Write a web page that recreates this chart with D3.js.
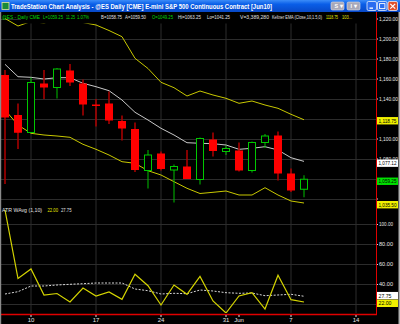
<!DOCTYPE html>
<html>
<head>
<meta charset="utf-8">
<script src="https://cdn.jsdelivr.net/npm/d3@7"></script>
<style>
body { margin: 0; background: #000; }
svg { display: block; font-family: "Liberation Sans", Arial, sans-serif; }
</style>
</head>
<body>
<script>
var width = 400,
    height = 324;

// daily bars, @ES June 2010 contract
var dates = ["2010-05-06", "2010-05-07", "2010-05-10", "2010-05-11", "2010-05-12", "2010-05-13",
    "2010-05-14", "2010-05-17", "2010-05-18", "2010-05-19", "2010-05-20", "2010-05-21",
    "2010-05-24", "2010-05-25", "2010-05-26", "2010-05-27", "2010-05-28", "2010-05-31",
    "2010-06-01", "2010-06-02", "2010-06-03", "2010-06-04", "2010-06-07", "2010-06-08"];
var emptyDays = ["2010-06-09", "2010-06-10", "2010-06-11", "2010-06-14", "2010-06-15"];

var open  = [1163.5, 1123.5, 1106, 1155, 1151, 1168, 1155, 1134, 1135, 1117.5, 1109.5, 1068,
             1085, 1068.5, 1072, 1059, 1099, 1087, 1088, 1068, 1096, 1103, 1065, 1049.25];
var high  = [1168.5, 1135, 1161, 1168.5, 1170.5, 1174.5, 1159, 1139.5, 1147, 1123, 1116, 1088.5,
             1087, 1074, 1088.5, 1101, 1106, 1093, 1096, 1097, 1104.5, 1107, 1070, 1063.25];
var low   = [1054.5, 1089.5, 1106, 1139.5, 1140, 1152.5, 1123, 1112, 1114.5, 1098, 1066.5, 1050,
             1068, 1036, 1059.5, 1054, 1082, 1083.5, 1067, 1066, 1090.5, 1058, 1046.5, 1041.25];
var close = [1121, 1105.75, 1156, 1151, 1169.5, 1156, 1134, 1132.5, 1118, 1110, 1068.5, 1083.5,
             1069.5, 1072, 1059.5, 1100, 1087.5, 1090, 1068, 1096, 1102.5, 1065, 1048, 1059.25];

// Keltner EMA (Close,10,1.5,0)
var kcMid   = [1174.2, 1161.8, 1161.2, 1159.5, 1160.8, 1160.8, 1155.2, 1151.8, 1147.8, 1138.5, 1126.2, 1118.5,
               1110.2, 1103.5, 1095.8, 1095.2, 1094.8, 1093.5, 1089.2, 1090.2, 1091.8, 1088.5, 1080.8, 1077.12];
var kcUpper = [1220, 1212.5, 1217, 1215.5, 1219, 1220.5, 1216, 1213.5, 1208, 1201.8, 1180.2, 1170,
               1156.2, 1150.8, 1142.5, 1147.5, 1143.5, 1140.2, 1135.2, 1137.5, 1133.5, 1130.2, 1124.2, 1118.75];
var kcLower = [1128.5, 1113.5, 1105.2, 1103.5, 1102.5, 1101.2, 1094.2, 1089.2, 1083.5, 1076.8, 1075.2, 1067.8,
               1063.5, 1056.8, 1050.2, 1045, 1046.2, 1047.5, 1043.5, 1043.5, 1050.8, 1043.5, 1037.5, 1035.5];

// ATR WAvg (1,10)
var atr    = [114, 45.5, 55, 29, 30.5, 22, 36, 28, 32, 24.7, 49.7, 38.3,
              19, 39, 29.7, 47.5, 23, 11, 28, 31.3, 15, 48.7, 24.3, 22];
var atrAvg = [30, 32.3, 38, 38, 39, 39.7, 40.3, 41, 41, 41, 35, 33.3,
              30, 30.7, 30.3, 34, 33, 31.3, 30.7, 31, 28.3, 29, 29.7, 27.75];

var priceTicks = [1220, 1200, 1180, 1160, 1140, 1120, 1100, 1080, 1060, 1040];
var atrTicks = [100, 80, 60, 40, 20];

var titleText = "TradeStation Chart Analysis - @ES Daily [CME] E-mini S&P 500 Continuous Contract [Jun10]";
var statusParts = [
    {t: "@ES - Daily CME", c: "#00d800", x: 2, w: 38},
    {t: "L=1059.25", c: "#00d800", x: 43, w: 20},
    {t: "11.25", c: "#00d800", x: 66, w: 9},
    {t: "1.07%", c: "#00d800", x: 77, w: 12},
    {t: "B=1058.75", c: "#e0e0e0", x: 101, w: 21},
    {t: "A=1059.50", c: "#e0e0e0", x: 125, w: 21},
    {t: "O=1049.25", c: "#00d800", x: 152, w: 21},
    {t: "Hi=1063.25", c: "#e0e0e0", x: 178, w: 23},
    {t: "Lo=1041.25", c: "#e0e0e0", x: 207, w: 23},
    {t: "V=3,389,280", c: "#e0e0e0", x: 240, w: 29},
    {t: "Keltner EMA (Close,10,1.5,0)", c: "#e0e0e0", x: 272, w: 50},
    {t: "1118.75", c: "#e8e800", x: 326, w: 12},
    {t: "103...", c: "#e8e800", x: 342, w: 10}
];

var parse = d3.timeParse("%Y-%m-%d");
var allDays = dates.concat(emptyDays);

var axisX = 376,
    priceTop = 13, priceBottom = 207,
    atrTop = 207, atrBottom = 313;

var x = d3.scalePoint()
    .domain(allDays)
    .range([5, 5 + 13 * (allDays.length - 1)]);

var y = d3.scaleLinear().domain([1040, 1200]).range([198.5, 38.5]);
var yAtr = d3.scaleLinear().domain([20, 100]).range([304, 224]);

var svg = d3.select("body").append("svg")
    .attr("width", width)
    .attr("height", height);

svg.append("rect").attr("width", width).attr("height", height).attr("fill", "#000");

var defs = svg.append("defs");
var grad = defs.append("linearGradient").attr("id", "title").attr("x1", 0).attr("y1", 0).attr("x2", 0).attr("y2", 1);
grad.append("stop").attr("offset", 0).attr("stop-color", "#3b8cf8");
grad.append("stop").attr("offset", 0.35).attr("stop-color", "#0a5ee8");
grad.append("stop").attr("offset", 1).attr("stop-color", "#0848c6");
defs.append("clipPath").attr("id", "priceClip").append("rect")
    .attr("x", 0).attr("y", priceTop).attr("width", axisX).attr("height", priceBottom - priceTop);
defs.append("clipPath").attr("id", "atrClip").append("rect")
    .attr("x", 0).attr("y", atrTop).attr("width", axisX).attr("height", atrBottom - atrTop);

// gridlines
var mondays = allDays.filter(function(d) { return parse(d).getDay() === 1; });
svg.append("g").selectAll("line")
    .data(mondays)
  .enter().append("line")
    .attr("x1", function(d) { return x(d); })
    .attr("x2", function(d) { return x(d); })
    .attr("y1", priceTop)
    .attr("y2", atrBottom)
    .attr("stroke", "#2c2c2c");

svg.append("g").selectAll("line")
    .data(priceTicks)
  .enter().append("line")
    .attr("x1", 1).attr("x2", axisX)
    .attr("y1", function(d) { return Math.round(y(d)) + 0.5; })
    .attr("y2", function(d) { return Math.round(y(d)) + 0.5; })
    .attr("stroke", "#2c2c2c");

svg.append("g").selectAll("line")
    .data(atrTicks)
  .enter().append("line")
    .attr("x1", 1).attr("x2", axisX)
    .attr("y1", function(d) { return Math.round(yAtr(d)) + 0.5; })
    .attr("y2", function(d) { return Math.round(yAtr(d)) + 0.5; })
    .attr("stroke", "#2c2c2c");

// price pane
var price = svg.append("g").attr("clip-path", "url(#priceClip)");

var bandLine = d3.line()
    .x(function(d, i) { return x(dates[i]); })
    .y(function(d) { return y(d); });

price.append("path").datum(kcUpper).attr("d", bandLine)
    .attr("fill", "none").attr("stroke", "#c8c800").attr("stroke-width", 1);
price.append("path").datum(kcLower).attr("d", bandLine)
    .attr("fill", "none").attr("stroke", "#c8c800").attr("stroke-width", 1);
price.append("path").datum(kcMid).attr("d", bandLine)
    .attr("fill", "none").attr("stroke", "#c8c8c8").attr("stroke-width", 1);

var bars = dates.map(function(d, i) {
    return {date: d, o: open[i], h: high[i], l: low[i], c: close[i], up: close[i] >= open[i]};
});

var candle = price.selectAll(".candle")
    .data(bars)
  .enter().append("g")
    .attr("class", "candle");

candle.append("line")
    .attr("x1", function(d) { return x(d.date); })
    .attr("x2", function(d) { return x(d.date); })
    .attr("y1", function(d) { return y(d.h); })
    .attr("y2", function(d) { return y(d.l); })
    .attr("stroke", function(d) { return d.up ? "#00c000" : "#b00000"; })
    .attr("stroke-width", function(d) { return d.up ? 1 : 1.5; });

candle.append("rect")
    .attr("x", function(d) { return x(d.date) - (d.up ? 3.5 : 4); })
    .attr("width", function(d) { return d.up ? 7 : 8; })
    .attr("y", function(d) { return y(Math.max(d.o, d.c)); })
    .attr("height", function(d) { return Math.max(1, Math.abs(y(d.o) - y(d.c))); })
    .attr("fill", function(d) { return d.up ? "#000" : "#ff0000"; })
    .attr("stroke", function(d) { return d.up ? "#00c800" : "none"; })
    .attr("stroke-width", 1);

// ATR pane
var atrPane = svg.append("g").attr("clip-path", "url(#atrClip)");

var atrLine = d3.line()
    .x(function(d, i) { return x(dates[i]); })
    .y(function(d) { return yAtr(d); });

atrPane.append("path").datum(atrAvg).attr("d", atrLine)
    .attr("fill", "none").attr("stroke", "#d8d8d8").attr("stroke-width", 1)
    .attr("stroke-dasharray", "2,1.5");
atrPane.append("path").datum(atr).attr("d", atrLine)
    .attr("fill", "none").attr("stroke", "#d4d400").attr("stroke-width", 1.2);

var atrHead = svg.append("text").attr("y", 211.5).attr("font-size", 5.5);
atrHead.append("tspan").attr("x", 2).attr("fill", "#e0e0e0").attr("textLength", 40)
    .attr("lengthAdjust", "spacingAndGlyphs").text("ATR WAvg (1,10)");
atrHead.append("tspan").attr("x", 47.5).attr("fill", "#e8e800").attr("textLength", 10.5)
    .attr("lengthAdjust", "spacingAndGlyphs").text("22.00");
atrHead.append("tspan").attr("x", 61).attr("fill", "#e0e0e0").attr("textLength", 10.5)
    .attr("lengthAdjust", "spacingAndGlyphs").text("27.75");

// right axes; labels that sit under a value box are not written
var fmt = d3.format(",.2f");
var coveredTicks = [1120, 1060, 1040, 20];

function styleAxis(g) {
    g.select(".domain").remove();
    g.selectAll(".tick line").attr("stroke", "#e0e0e0");
    g.selectAll(".tick text")
        .filter(function(d) { return coveredTicks.indexOf(d) >= 0; }).remove();
    g.selectAll(".tick text").attr("fill", "#e8e8e8").attr("font-size", 5.5)
        .attr("font-family", "Liberation Sans, Arial, sans-serif")
        .attr("textLength", function(d) { return d >= 1000 ? 19 : 14; })
        .attr("lengthAdjust", "spacingAndGlyphs");
}

svg.append("g")
    .attr("transform", "translate(" + axisX + ",0)")
    .call(d3.axisRight(y).tickValues(priceTicks).tickFormat(fmt).tickSize(2).tickPadding(1))
    .call(styleAxis);

svg.append("g")
    .attr("transform", "translate(" + axisX + ",0)")
    .call(d3.axisRight(yAtr).tickValues(atrTicks).tickFormat(fmt).tickSize(2).tickPadding(1))
    .call(styleAxis);

// last-value boxes
var last = dates.length - 1;
var boxes = [
    {v: y(kcUpper[last]) + 1, t: fmt(kcUpper[last]), fill: "#f0f000"},
    {v: y(kcMid[last]) + 1.8, t: fmt(kcMid[last]), fill: "#ffffff"},
    {v: y(close[last]) + 2, t: fmt(close[last]), fill: "#00e000"},
    {v: y(kcLower[last]) + 1.7, t: fmt(kcLower[last]), fill: "#f0f000"},
    {v: yAtr(atrAvg[last]) - 0.6, t: fmt(atrAvg[last]), fill: "#ffffff"},
    {v: yAtr(atr[last]) + 1.3, t: fmt(atr[last]), fill: "#f0f000"}
];

var box = svg.append("g").selectAll("g")
    .data(boxes)
  .enter().append("g")
    .attr("transform", function(d) { return "translate(" + (axisX + 1) + "," + d.v + ")"; });

box.append("rect")
    .attr("x", 0).attr("y", -3.7).attr("width", 21).attr("height", 7.4)
    .attr("fill", function(d) { return d.fill; });
box.append("text")
    .attr("x", 1.5).attr("y", 2).attr("font-size", 5.3).attr("fill", "#000")
    .attr("textLength", function(d) { return d.t.length > 6 ? 18 : 13; })
    .attr("lengthAdjust", "spacingAndGlyphs")
    .text(function(d) { return d.t; });

// frame lines
svg.append("line").attr("x1", axisX + 0.5).attr("x2", axisX + 0.5).attr("y1", 12).attr("y2", 315)
    .attr("stroke", "#e00000").attr("stroke-width", 1);
svg.append("line").attr("x1", 0).attr("x2", axisX + 1).attr("y1", 314.5).attr("y2", 314.5)
    .attr("stroke", "#e00000").attr("stroke-width", 1.5);
svg.append("rect").attr("x", 0).attr("y", 12).attr("width", 1.2).attr("height", height - 12).attr("fill", "#8a8a8a");
svg.append("rect").attr("x", 398.5).attr("y", 12).attr("width", 1.5).attr("height", height - 12).attr("fill", "#b0b0b0");

// date axis
var monthFmt = d3.timeFormat("%b");
var dateLabels = allDays.map(function(d, i) {
    var dt = parse(d),
        prev = i > 0 ? parse(allDays[i - 1]) : null;
    if (prev && prev.getMonth() !== dt.getMonth()) return {d: d, t: monthFmt(dt)};
    if (dt.getDay() === 1) return {d: d, t: String(dt.getDate())};
    return null;
}).filter(function(d) { return d; });

svg.append("g").selectAll("line")
    .data(dateLabels)
  .enter().append("line")
    .attr("x1", function(d) { return x(d.d); })
    .attr("x2", function(d) { return x(d.d); })
    .attr("y1", 315).attr("y2", 317)
    .attr("stroke", "#e0e0e0");

svg.append("g").selectAll("text")
    .data(dateLabels)
  .enter().append("text")
    .attr("x", function(d) { return x(d.d); })
    .attr("y", 322)
    .attr("text-anchor", "middle")
    .attr("font-size", 6)
    .attr("fill", "#e8e8e8")
    .text(function(d) { return d.t; });

// status line (its strip hides the plot under the text)
svg.append("rect").attr("x", 21).attr("y", 12).attr("width", axisX - 21).attr("height", 11.5).attr("fill", "#000");
var statusLine = svg.append("text").attr("y", 19).attr("font-size", 4.6)
    .attr("font-family", "Liberation Sans Narrow, Liberation Sans, Arial, sans-serif");
statusLine.selectAll("tspan")
    .data(statusParts)
  .enter().append("tspan")
    .attr("x", function(d) { return d.x; })
    .attr("textLength", function(d) { return d.w; })
    .attr("lengthAdjust", "spacingAndGlyphs")
    .attr("fill", function(d) { return d.c; })
    .text(function(d) { return d.t; });

// title bar
svg.append("rect").attr("width", width).attr("height", 12).attr("fill", "url(#title)");
svg.append("rect").attr("x", 2).attr("y", 2.5).attr("width", 7).attr("height", 7).attr("fill", "#1a8a3a")
    .attr("stroke", "#e8e8a0").attr("stroke-width", 0.8);
svg.append("text").attr("x", 11).attr("y", 9).attr("font-size", 7).attr("font-weight", "bold")
    .attr("fill", "#fff").attr("textLength", 261).attr("lengthAdjust", "spacingAndGlyphs")
    .text(titleText);

var tbtn = svg.append("g").selectAll("g")
    .data([{x: 331, t: "S"}, {x: 347, t: "I"}])
  .enter().append("g");
tbtn.append("rect")
    .attr("x", function(d) { return d.x; }).attr("y", 2).attr("width", 13).attr("height", 8).attr("rx", 1.5)
    .attr("fill", "#a8a8b8").attr("stroke", "#e0e0e8").attr("stroke-width", 0.6);
tbtn.append("text")
    .attr("x", function(d) { return d.x + 3.5; }).attr("y", 8.3).attr("font-size", 5.5).attr("font-weight", "bold")
    .attr("fill", "#fff").text(function(d) { return d.t + " \u25be"; });

svg.append("g").selectAll("rect")
    .data([{x: 367, f: "#2a6cf0"}, {x: 377.5, f: "#2a6cf0"}, {x: 388, f: "#e0502c"}])
  .enter().append("rect")
    .attr("x", function(d) { return d.x; }).attr("y", 1.5).attr("width", 9.5).attr("height", 9).attr("rx", 1.5)
    .attr("fill", function(d) { return d.f; }).attr("stroke", "#fff").attr("stroke-width", 0.7);
svg.append("rect").attr("x", 369.5).attr("y", 7.5).attr("width", 3.5).attr("height", 1.3).attr("fill", "#fff");
svg.append("rect").attr("x", 379.6).attr("y", 3.6).attr("width", 5.3).attr("height", 5).attr("fill", "none")
    .attr("stroke", "#fff").attr("stroke-width", 0.9);
svg.append("path").attr("d", "M390.3,3.8L395.2,8.7M395.2,3.8L390.3,8.7").attr("stroke", "#fff").attr("stroke-width", 1.2);
</script>
</body>
</html>
